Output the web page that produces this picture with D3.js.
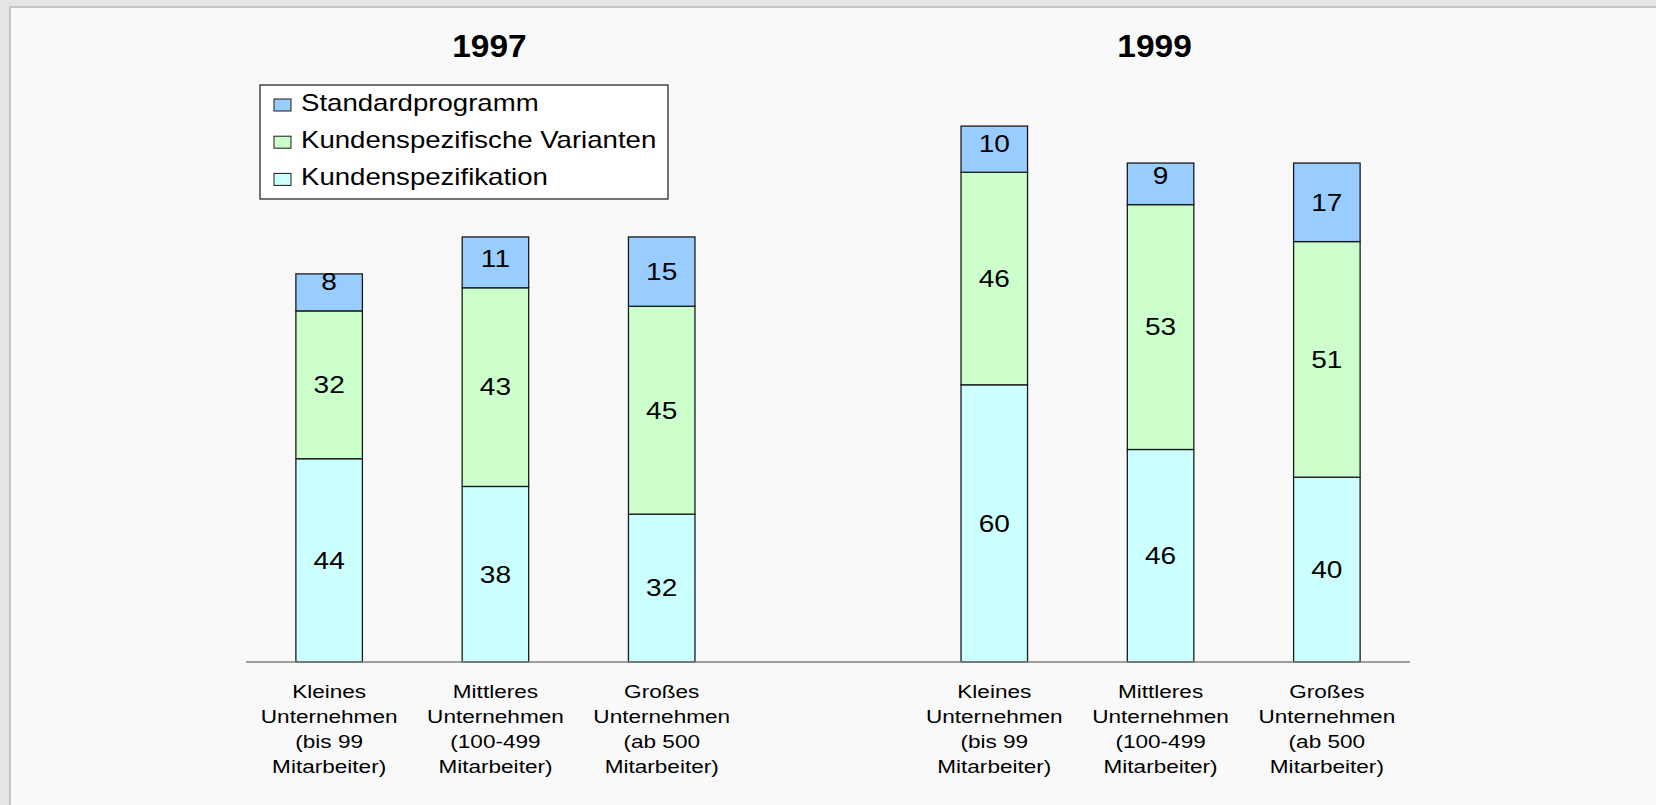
<!doctype html>
<html>

<head>
	<title>Standardprogramm vs. Kundenspezifikation</title>
	<script src="https://cdn.jsdelivr.net/npm/d3@7/dist/d3.min.js"></script>
	<style>
		body { margin: 0; background: #e5e5e5; }
		text { font-family: "Liberation Sans", Arial, sans-serif; fill: #000; }
	</style>
</head>

<body>

	<script>

        var years = ["1997", "1999"];
        var categories = [
            ["Kleines", "Unternehmen", "(bis 99", "Mitarbeiter)"],
            ["Mittleres", "Unternehmen", "(100-499", "Mitarbeiter)"],
            ["Großes", "Unternehmen", "(ab 500", "Mitarbeiter)"]
        ];
        var seriesNames = ["Kundenspezifikation", "Kundenspezifische Varianten", "Standardprogramm"];
        var seriesColors = ["#ccffff", "#ccffcc", "#99ccff"];

        // values per year, one entry per company size
        var kundenspezifikation = { "1997": [44, 38, 32], "1999": [60, 46, 40] };
        var varianten           = { "1997": [32, 43, 45], "1999": [46, 53, 51] };
        var standardprogramm    = { "1997": [8, 11, 15],  "1999": [10, 9, 17] };

        var width = 1656;
        var height = 805;
        var stretch = 1.22;   // the original text is drawn a bit wide

        var svg = d3.select("body")
                .append("svg")
                .attr("width", width)
                .attr("height", height)
                .style("display", "block");

        // frame
        svg.append("rect")
            .attr("x", 10).attr("y", 7)
            .attr("width", width).attr("height", height)
            .attr("fill", "#f9f9f9")
            .attr("stroke", "#c6c6c6")
            .attr("stroke-width", 2);

        // slots: three bars per year with one empty slot between the years
        var slots = ["1997-0", "1997-1", "1997-2", "gap", "1999-0", "1999-1", "1999-2"];

        var x = d3.scaleBand()
                    .domain(slots)
                    .range([246, 1410])
                    .paddingInner(0.6)
                    .paddingOuter(0.3);

        var y = d3.scaleLinear()
                    .domain([0, 120])
                    .range([662, 662 - 120 * 4.62]);

        // build stacked rows
        var rows = [];
        years.forEach(function (yr) {
            categories.forEach(function (c, i) {
                rows.push({
                    key: yr + "-" + i,
                    year: yr,
                    Kundenspezifikation: kundenspezifikation[yr][i],
                    "Kundenspezifische Varianten": varianten[yr][i],
                    Standardprogramm: standardprogramm[yr][i]
                });
            });
        });

        var stack = d3.stack().keys(seriesNames);
        var stacked = stack(rows);

        function wideText(sel, tx, ty, sx) {
            return sel.attr("transform", function (d, i) {
                return "translate(" + tx(d, i) + "," + ty(d, i) + ") scale(" + sx + ",1)";
            });
        }

        var chart = svg.append("g");

        var layer = chart.selectAll("g.layer")
            .data(stacked)
            .enter()
                .append("g")
                .attr("class", "layer")
                .attr("fill", function (d, i) { return seriesColors[i]; });

        layer.selectAll("rect")
            .data(function (d) { return d; })
            .enter()
                .append("rect")
                .attr("x", function (d) { return x(d.data.key); })
                .attr("width", x.bandwidth())
                .attr("y", function (d) { return y(d[1]); })
                .attr("height", function (d) { return y(d[0]) - y(d[1]); })
                .attr("stroke", "#1a1a1a")
                .attr("stroke-width", 1.3);

        // value labels; small segments push their label upward like the original
        layer.selectAll("text")
            .data(function (d) { return d; })
            .enter()
                .append("text")
                .attr("text-anchor", "middle")
                .attr("dy", "0.36em")
                .style("font-size", "23px")
                .call(wideText,
                    function (d) { return x(d.data.key) + x.bandwidth() / 2; },
                    function (d) {
                        var h = y(d[0]) - y(d[1]);
                        return y(d[0]) - Math.max(h, 58) / 2;
                    },
                    stretch)
                .text(function (d) { return d[1] - d[0]; });

        // axis line
        chart.append("line")
            .attr("x1", x.range()[0]).attr("x2", x.range()[1])
            .attr("y1", y(0)).attr("y2", y(0))
            .attr("stroke", "#808080")
            .attr("stroke-width", 1.3);

        // category labels
        var cat = chart.selectAll("g.cat")
            .data(rows)
            .enter()
                .append("g")
                .attr("class", "cat");

        cat.selectAll("text")
            .data(function (d, i) {
                var idx = i % 3;
                return categories[idx].map(function (t) { return { text: t, key: d.key }; });
            })
            .enter()
                .append("text")
                .attr("text-anchor", "middle")
                .style("font-size", "18.5px")
                .call(wideText,
                    function (d) { return x(d.key) + x.bandwidth() / 2; },
                    function (d, i) { return 698 + i * 25; },
                    stretch)
                .text(function (d) { return d.text; });

        // year titles
        chart.selectAll("text.title")
            .data(years)
            .enter()
                .append("text")
                .attr("class", "title")
                .attr("text-anchor", "middle")
                .style("font-size", "31px")
                .style("font-weight", "bold")
                .call(wideText,
                    function (d) { return x(d + "-1") + x.bandwidth() / 2 - 6; },
                    function () { return 57; },
                    1.08)
                .text(function (d) { return d; });

        // legend
        var legend = svg.append("g").attr("transform", "translate(260,85)");

        legend.append("rect")
            .attr("width", 408).attr("height", 114)
            .attr("fill", "#ffffff")
            .attr("stroke", "#1a1a1a")
            .attr("stroke-width", 1.2);

        var legendOrder = seriesNames.slice().reverse();

        var item = legend.selectAll("g.item")
            .data(legendOrder)
            .enter()
                .append("g")
                .attr("class", "item")
                .attr("transform", function (d, i) { return "translate(0," + (26 + i * 37.2) + ")"; });

        item.append("rect")
            .attr("x", 14).attr("y", -12)
            .attr("width", 17).attr("height", 12)
            .attr("fill", function (d) { return seriesColors[seriesNames.indexOf(d)]; })
            .attr("stroke", "#1a1a1a")
            .attr("stroke-width", 1);

        item.append("text")
            .style("font-size", "23px")
            .call(wideText, function () { return 41; }, function () { return 0; }, 1.2)
            .text(function (d) { return d; });

	</script>
</body>

</html>
